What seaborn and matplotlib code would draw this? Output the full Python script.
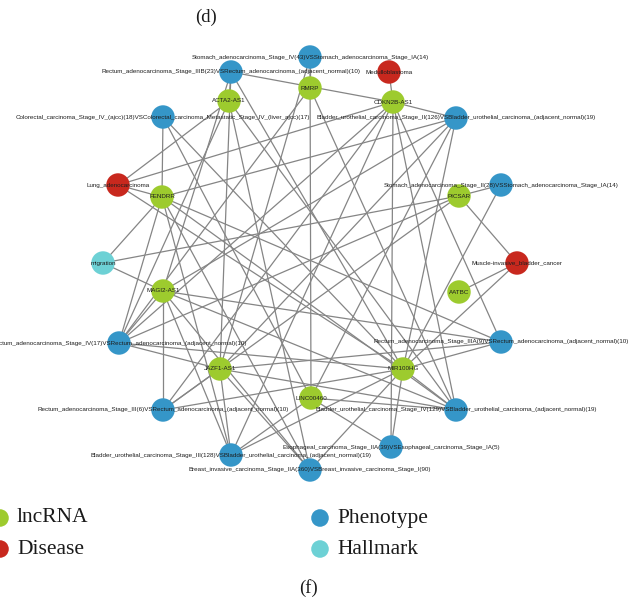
import matplotlib
matplotlib.use("Agg")
import matplotlib.pyplot as plt
import seaborn as sns
import pandas as pd

# ---- nodes -------------------------------------------------------------
P1 = "Stomach_adenocarcinoma_Stage_IV(43)VSStomach_adenocarcinoma_Stage_IA(14)"
P2 = "Rectum_adenocarcinoma_Stage_IIIB(23)VSRectum_adenocarcinoma_(adjacent_normal)(10)"
P3 = "Colorectal_carcinoma_Stage_IV_(ajcc)(18)VSColorectal_carcinoma_Metastatic_Stage_IV_(liver_ajcc)(17)"
P4 = "Bladder_urothelial_carcinoma_Stage_II(126)VSBladder_urothelial_carcinoma_(adjacent_normal)(19)"
P5 = "Stomach_adenocarcinoma_Stage_II(28)VSStomach_adenocarcinoma_Stage_IA(14)"
P6 = "Rectum_adenocarcinoma_Stage_IV(17)VSRectum_adenocarcinoma_(adjacent_normal)(10)"
P7 = "Rectum_adenocarcinoma_Stage_IIIA(9)VSRectum_adenocarcinoma_(adjacent_normal)(10)"
P8 = "Rectum_adenocarcinoma_Stage_III(6)VSRectum_adenocarcinoma_(adjacent_normal)(10)"
P9 = "Bladder_urothelial_carcinoma_Stage_IV(129)VSBladder_urothelial_carcinoma_(adjacent_normal)(19)"
P10 = "Esophageal_carcinoma_Stage_IIA(39)VSEsophageal_carcinoma_Stage_IA(5)"
P11 = "Bladder_urothelial_carcinoma_Stage_III(128)VSBladder_urothelial_carcinoma_(adjacent_normal)(19)"
P12 = "Breast_invasive_carcinoma_Stage_IIA(360)VSBreast_invasive_carcinoma_Stage_I(90)"
MED = "Medulloblastoma"
LUNG = "Lung_adenocarcinoma"
MIBC = "Muscle-invasive_bladder_cancer"
MIG = "migration"

lncrna_names = ["RMRP", "ACTA2-AS1", "CDKN2B-AS1", "FENDRR", "PICSAR",
                "MAGI2-AS1", "AATBC", "JAZF1-AS1", "MIR100HG", "LINC00460"]
lncrna_x = [310, 229, 393, 162, 459, 163, 459, 220, 403, 311]
lncrna_y = [88, 101, 102, 197, 196, 291, 292, 369, 369, 398]

phenotype_names = [P1, P2, P3, P4, P5, P6, P7, P8, P9, P10, P11, P12]
phenotype_x = [310, 231, 163, 456, 501, 119, 501, 163, 456, 391, 231, 310]
phenotype_y = [57, 72, 117, 118, 185, 343, 342, 410, 410, 447, 455, 470]

disease_names = [MED, LUNG, MIBC]
disease_x = [389, 118, 517]
disease_y = [72, 185, 263]

hallmark_names = [MIG]
hallmark_x = [103]
hallmark_y = [263]

# ---- edges (lncRNA -> partner) -----------------------------------------
edge_source = (
    ["ACTA2-AS1"] * 5 + ["RMRP"] * 3 + ["CDKN2B-AS1"] * 10 + ["FENDRR"] * 9
    + ["PICSAR"] * 5 + ["MAGI2-AS1"] * 9 + ["AATBC"] * 1 + ["JAZF1-AS1"] * 9
    + ["MIR100HG"] * 13 + ["LINC00460"] * 6
)
edge_target = (
    [P2, LUNG, P12, P9, P6]
    + [P1, P6, P9]
    + [MED, P2, P4, LUNG, P8, P11, P10, P9, P7, P6]
    + [P3, LUNG, P4, MIG, P6, P11, P7, P9, P12]
    + [P5, MIG, MIBC, P6, P8]
    + [MIG, P6, P8, P2, P4, P9, P7, P12, P11]
    + [MIBC]
    + [P1, P4, P6, P11, P12, P9, P7, P2, P8]
    + [P5, MIBC, P7, P6, P8, P11, P12, P10, P9, P4, P3, LUNG, P2]
    + [P9, P11, P3, P1, P10, P4]
)

categories = ["lncRNA", "Phenotype", "Disease", "Hallmark"]
palette = {"lncRNA": "#9dcb2e", "Phenotype": "#3596c8",
           "Disease": "#c8281e", "Hallmark": "#6dd1d5"}

nodes = pd.DataFrame({
    "name": lncrna_names + phenotype_names + disease_names + hallmark_names,
    "x": lncrna_x + phenotype_x + disease_x + hallmark_x,
    "y": lncrna_y + phenotype_y + disease_y + hallmark_y,
    "type": (["lncRNA"] * len(lncrna_names) + ["Phenotype"] * len(phenotype_names)
             + ["Disease"] * len(disease_names) + ["Hallmark"] * len(hallmark_names)),
})
pos = {r.name: (r.x, r.y) for r in nodes.itertuples()}

sns.set_theme(style="white")
plt.rcParams["font.family"] = ["Liberation Sans", "DejaVu Sans"]

W, H = 634, 603
fig = plt.figure(figsize=(W / 100, H / 100), dpi=100)
ax = fig.add_axes([0, 0, 1, 1])

# edges
for s, t in zip(edge_source, edge_target):
    (x0, y0), (x1, y1) = pos[s], pos[t]
    ax.plot([x0, x1], [y0, y1], color="#858585", lw=0.9, zorder=1,
            solid_capstyle="round")

# nodes
sns.scatterplot(data=nodes, x="x", y="y", hue="type", hue_order=categories,
                palette=palette, s=285, linewidth=0, legend=False, ax=ax,
                zorder=2)

# node labels
for r in nodes.itertuples():
    ax.text(r.x, r.y, r.name, ha="center", va="center", fontsize=4.5,
            color="#1e1e1e", zorder=3)

# legend
serif = ["Liberation Serif", "DejaVu Serif"]
leg_items = [("lncRNA", 0, 518), ("Disease", 0, 549),
             ("Phenotype", 320, 518), ("Hallmark", 320, 549)]
leg = pd.DataFrame({"type": [c for c, _, _ in leg_items],
                    "x": [x for _, x, _ in leg_items],
                    "y": [y for _, _, y in leg_items]})
sns.scatterplot(data=leg, x="x", y="y", hue="type", palette=palette, s=160,
                linewidth=0, legend=False, ax=ax, clip_on=False, zorder=2)
for c, x, y in leg_items:
    ax.text(x + 17, y, c, ha="left", va="center", fontsize=15.5,
            family=serif, color="#1a1a1a")

# panel captions
ax.text(206, 17, "(d)", ha="center", va="center", fontsize=13.5, family=serif,
        color="#1a1a1a")
ax.text(309, 588, "(f)", ha="center", va="center", fontsize=13.5, family=serif,
        color="#1a1a1a")

ax.set_xlim(0, W)
ax.set_ylim(H, 0)
ax.axis("off")

fig.savefig("out.png", dpi=100)
